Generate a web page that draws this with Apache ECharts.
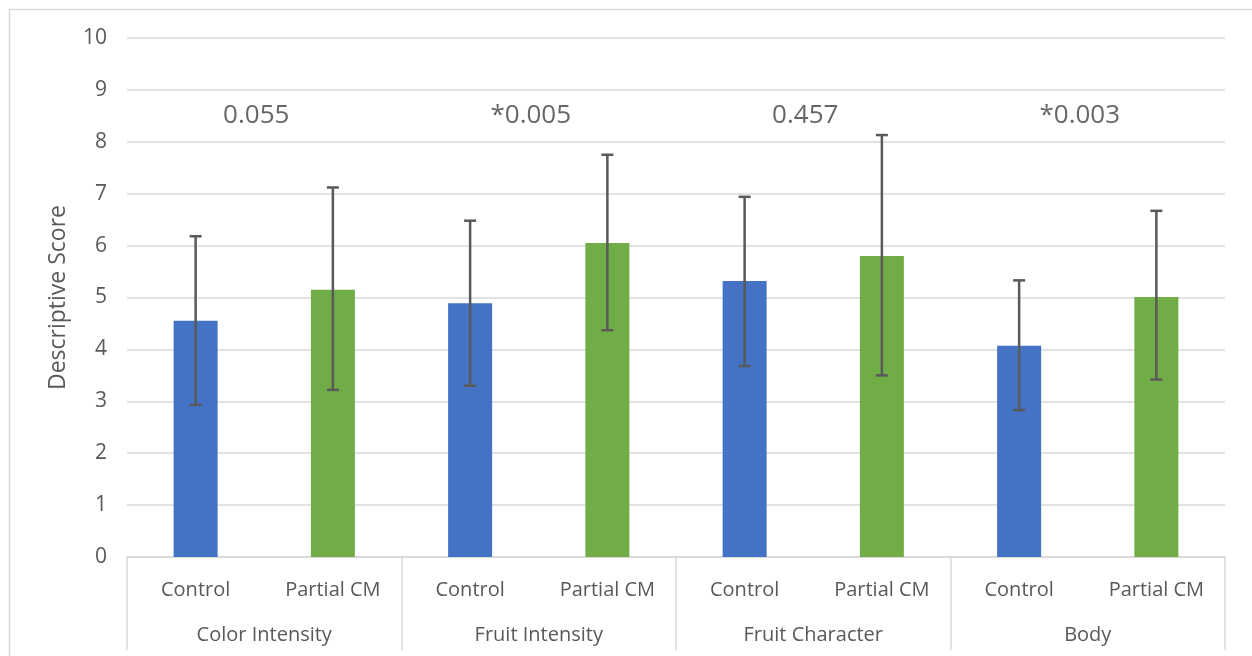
<!DOCTYPE html>
<html><head><meta charset="utf-8">
<script src="https://cdn.jsdelivr.net/npm/echarts@6/dist/echarts.min.js"></script>
<style>html,body{margin:0;padding:0;background:#fff}#c{width:1252px;height:656px}</style>
</head><body><div id="c"></div>
<script>
const groups = ['Color Intensity', 'Fruit Intensity', 'Fruit Character', 'Body'];
const treatments = ['Control', 'Partial CM'];
const controlMean = [4.55, 4.89, 5.32, 4.07];
const controlLow = [2.93, 3.30, 3.68, 2.83];
const controlHigh = [6.18, 6.48, 6.94, 5.33];
const partialMean = [5.15, 6.05, 5.80, 5.01];
const partialLow = [3.22, 4.37, 3.50, 3.42];
const partialHigh = [7.12, 7.75, 8.13, 6.67];
const pValues = ['0.055', '*0.005', '0.457', '*0.003'];
const pLevel = 8.5;
const yTicks = [0, 1, 2, 3, 4, 5, 6, 7, 8, 9, 10];

const colors = ['#4472C4', '#70AD47'];
const cats = [], means = [], errs = [];
groups.forEach((g, i) => {
  cats.push(treatments[0], treatments[1]);
  means.push({value: controlMean[i], itemStyle: {color: colors[0]}});
  means.push({value: partialMean[i], itemStyle: {color: colors[1]}});
  errs.push([2 * i, controlLow[i], controlHigh[i]]);
  errs.push([2 * i + 1, partialLow[i], partialHigh[i]]);
});
const font = 'Open Sans, Noto Sans, sans-serif';
const txt = '#595959';
const chart = echarts.init(document.getElementById('c'));
chart.setOption({
  animation: false,
  graphic: [{type: 'rect', shape: {x: 9.5, y: 9.5, width: 1260, height: 700}, style: {fill: 'none', stroke: '#d9d9d9', lineWidth: 1.5}, silent: true}],
  grid: {left: 127, right: 27, top: 38, bottom: 99},
  xAxis: [{
    type: 'category', data: cats, position: 'bottom',
    axisLine: {show: true, lineStyle: {color: '#d9d9d9', width: 1.5}},
    axisTick: {show: false},
    axisLabel: {color: txt, fontFamily: font, fontSize: 20, margin: 23, interval: 0}
  }, {
    type: 'category', data: groups, position: 'bottom',
    axisLine: {show: true, lineStyle: {color: '#d9d9d9', width: 1.5}},
    axisTick: {show: true, length: 93, lineStyle: {color: '#d9d9d9', width: 1.5}},
    axisLabel: {color: txt, fontFamily: font, fontSize: 20, margin: 68, interval: 0}
  }],
  yAxis: {
    type: 'value', min: yTicks[0], max: yTicks[yTicks.length - 1], interval: 1,
    name: 'Descriptive Score', nameLocation: 'middle', nameGap: 57,
    nameTextStyle: {color: txt, fontFamily: font, fontSize: 23},
    axisLine: {show: false}, axisTick: {show: false},
    axisLabel: {color: txt, fontFamily: font, fontSize: 21, margin: 20},
    splitLine: {lineStyle: {color: '#d9d9d9', width: 1.5}}
  },
  series: [{
    type: 'bar', xAxisIndex: 0, data: means, barWidth: 44
  }, {
    type: 'custom', xAxisIndex: 0, data: errs, z: 5,
    renderItem: function (params, api) {
      const x = api.value(0);
      const lo = api.coord([x, api.value(1)]);
      const hi = api.coord([x, api.value(2)]);
      const w = 6;
      const st = {stroke: '#595959', lineWidth: 2.5};
      return {type: 'group', children: [
        {type: 'line', shape: {x1: lo[0], y1: lo[1], x2: hi[0], y2: hi[1]}, style: st},
        {type: 'line', shape: {x1: lo[0] - w, y1: lo[1], x2: lo[0] + w, y2: lo[1]}, style: st},
        {type: 'line', shape: {x1: hi[0] - w, y1: hi[1], x2: hi[0] + w, y2: hi[1]}, style: st}
      ]};
    }
  }, {
    type: 'scatter', xAxisIndex: 1, symbolSize: 0,
    data: groups.map((g, i) => ({value: [g, pLevel], label: {formatter: pValues[i]}})),
    label: {show: true, position: 'inside', offset: [-8, 0], color: '#404040', fontFamily: font, fontSize: 26},
    silent: true
  }]
});
</script></body></html>
